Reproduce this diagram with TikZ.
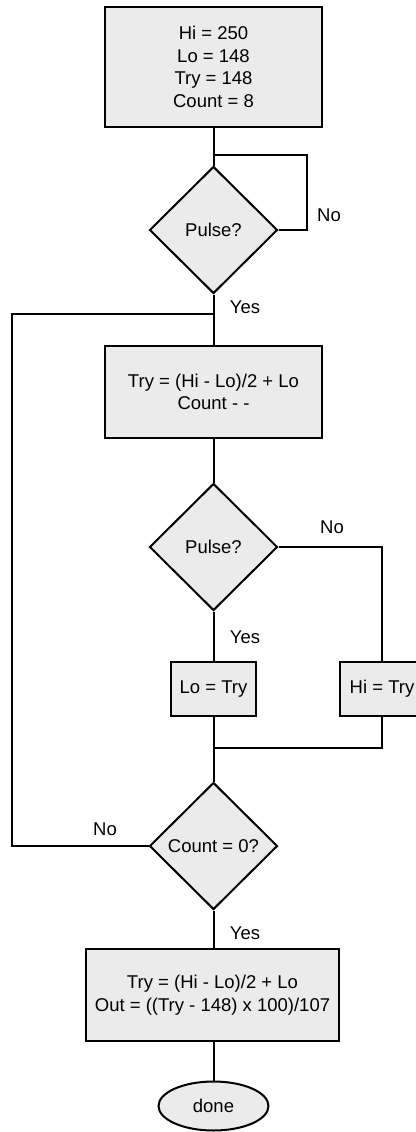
\documentclass[tikz,border=0pt]{standalone}
\usepackage{fontspec}
\setmainfont{Liberation Sans}
\usetikzlibrary{shapes.geometric}
\begin{document}
\begin{tikzpicture}[x=1pt,y=-1pt,
  every node/.style={font=\fontsize{18.5}{22.7}\selectfont},
  conn/.style={line width=2pt},
  procbox/.style={draw,line width=2pt,fill=black!8,rectangle,align=center,inner sep=0pt},
  decision/.style={draw,line width=2pt,fill=black!8,diamond,inner sep=0pt,minimum width=128pt,minimum height=127pt},
  term/.style={draw,line width=2pt,fill=black!8,ellipse,inner sep=0pt,minimum width=110pt,minimum height=49pt},
  lbl/.style={inner sep=0pt}]
\useasboundingbox (0,0) rectangle (415,1132);
\node[procbox,minimum width=217pt,minimum height=120pt] (init) at (213.5,67) {Hi = 250\\Lo = 148\\Try = 148\\Count = 8};
\node[decision] (d1) at (213.5,230) {Pulse?};
\node[procbox,minimum width=217pt,minimum height=92pt] (calc) at (213.5,392) {Try = (Hi - Lo)/2 + Lo\\Count - -};
\node[decision] (d2) at (213.5,547) {Pulse?};
\node[procbox,minimum width=85pt,minimum height=54pt] (lo) at (213.5,689) {Lo = Try};
\node[procbox,minimum width=85pt,minimum height=54pt] (hi) at (382,689) {Hi = Try};
\node[decision] (d3) at (213.5,846) {Count = 0?};
\node[procbox,minimum width=253pt,minimum height=92pt] (out) at (212.5,995) {Try = (Hi - Lo)/2 + Lo\\Out = ((Try - 148) x 100)/107};
\node[term] (done) at (213.5,1106) {done};

\coordinate (l1) at (307,155);
\coordinate (j1) at (213.5,314);
\coordinate (l3) at (12,314);
\coordinate (m) at (213.5,748);

\draw[conn] (init.south) -- (d1.north);
\draw[conn] (d1.east) -- (d1.east -| l1) -- (l1) -- (l1 -| init.south);
\draw[conn] (d1.south) -- (calc.north);
\draw[conn] (calc.south) -- (d2.north);
\draw[conn] (d2.south) -- (lo.north);
\draw[conn] (d2.east) -| (hi.north);
\draw[conn] (lo.south) -- (d3.north);
\draw[conn] (hi.south) |- (m);
\draw[conn] (d3.west) -| (l3) -- (j1);
\draw[conn] (d3.south) -- (out.north -| d3.south);
\draw[conn] (out.south -| done.north) -- (done.north);

\node[lbl] (n1) at (329,215) {No};
\node[lbl] (y1) at (245,307) {Yes};
\node[lbl] (n2) at (332,527) {No};
\node[lbl] (y2) at (245,637) {Yes};
\node[lbl] (n3) at (105,829) {No};
\node[lbl] (y3) at (245,933) {Yes};
\end{tikzpicture}
\end{document}
